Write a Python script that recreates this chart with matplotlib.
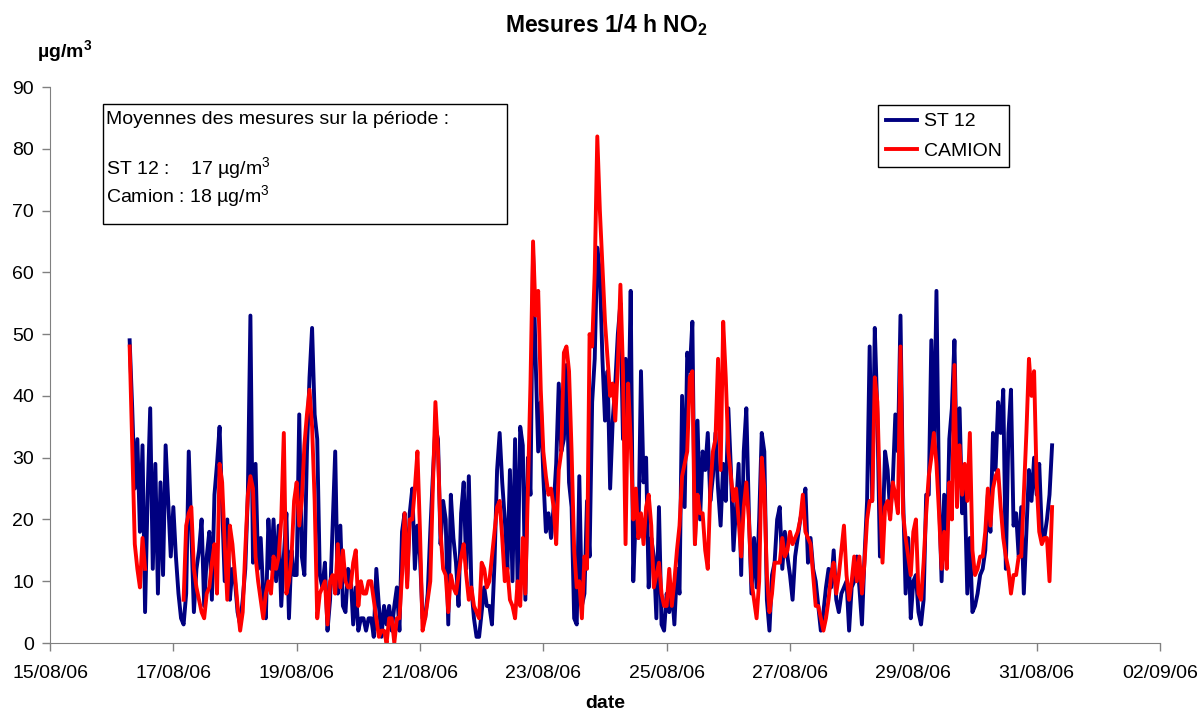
import numpy as np
import pandas as pd
import matplotlib
matplotlib.use("Agg")
import matplotlib.pyplot as plt
from matplotlib.patches import Rectangle

plt.rcParams['font.family'] = ['Liberation Sans', 'DejaVu Sans']
plt.rcParams['mathtext.fontset'] = 'custom'
plt.rcParams['mathtext.rm'] = 'Liberation Sans'
plt.rcParams['mathtext.bf'] = 'Liberation Sans:bold'

nan = np.nan

# hourly readings, 16/08/06 07:00 -> 31/08/06 06:00
start = "2006-08-16 07:00"

st12 = [
    # 16/08
    49, 38, 25, 33, 18, 32, 5, 24, 38, 12, 29, 8, 26, 11, 32, 23, 14,
    # 17/08
    22, 14, 8, 4, 3, 8, 31, 18, 5, 12, 15, 20, 6, 14, 18, 7, 24, 29, 35, 22, 10, 20, 7, 12,
    # 18/08
    10, 5, 3, 7, 12, 24, 53, 13, 29, 12, 17, 8, 4, 20, 12, 20, 10, 19, 6, 14, 21, 4, 15, 11,
    # 19/08
    11, 37, 14, 11, 31, 43, 51, 37, 33, 11, 9, 13, 2, 7, 19, 31, 8, 19, 6, 5, 12, 11, 3, 9,
    # 20/08
    2, 4, 4, 2, 4, 4, 1, 12, 6, 1, 6, 3, 6, 2, 6, 9, 2, 18, 21, 10, 21, 25, 12, 19,
    # 21/08
    14, 4, 4, 8, 18, 27, 35, 33, 16, 23, 20, 3, 24, 17, 13, 6, 21, 26, 12, 27, 9, 4, 1, 1,
    # 22/08
    5, 9, 6, 6, 3, 13, 28, 34, 26, 20, 12, 28, 10, 33, 9, 35, 32, 7, 30, 24, 63, 46, 31, 39,
    # 23/08
    27, 18, 21, 17, 22, 29, 42, 31, 33, 45, 26, 22, 4, 3, 27, 6, 8, 23, 14, 39, 46, 64, 60, 46,
    # 24/08
    36, 44, 25, 36, 42, 50, 55, 33, 46, 33, 57, 10, 21, 17, 44, 26, 30, 9, 17, 14, 4, 22, 3, 2,
    # 25/08
    8, 5, 9, 3, 12, 8, 40, 22, 47, 44, 52, 16, 36, 20, 31, 28, 34, 23, 27, 34, 25, 19, 29, 23,
    # 26/08
    38, 28, 15, 22, 29, 11, 31, 38, 21, 8, 17, 9, 20, 34, 31, 7, 2, 11, 13, 20, 22, 12, 18, 14,
    # 27/08
    11, 7, 14, 17, 20, 22, 25, 13, 17, 12, 10, 6, 2, 5, 9, 12, 9, 15, 7, 5, 8, 9, 10, 2,
    # 28/08
    9, 10, 14, 9, 3, 14, 23, 48, 23, 51, 37, 14, 17, 31, 28, 21, 26, 37, 31, 53, 24, 8, 17, 4,
    # 29/08
    10, 11, 5, 3, 7, 24, 24, 49, 31, 57, 24, 10, 24, 14, 33, 38, 49, 26, 38, 21, 25, 8, 17, 5,
    # 30/08
    6, 8, 11, 12, 15, 24, 18, 34, 28, 39, 34, 41, 12, 34, 41, 19, 21, 14, 22, 8, 18, 28, 23, 30,
    # 31/08
    24, 29, 18, 17, 20, 24, 32,
]

camion = [
    # 16/08
    48, 32, 16, 12, 9, 17, 12, nan, nan, nan, nan, nan, nan, nan, nan, nan, nan,
    # 17/08
    nan, nan, nan, nan, 7, 19, 21, 22, 12, 9, 7, 5, 4, 8, 9, 13, 16, 8, 29, 26, 16, 7, 19, 16,
    # 18/08
    11, 6, 2, 5, 15, 24, 27, 25, 14, 10, 7, 4, 8, 10, 8, 14, 12, 14, 20, 34, 8, 10, 14, 23,
    # 19/08
    26, 19, 23, 32, 37, 41, 35, 23, 4, 8, 9, 10, 3, 10, 11, 8, 16, 9, 15, 10, 9, 9, 13, 15,
    # 20/08
    6, 10, 8, 8, 10, 10, 7, 4, 1, 2, 2, 0, 4, 4, 0, 4, 4, 11, 21, 9, 20, 20, 25, 31,
    # 21/08
    18, 2, 4, 7, 10, 25, 39, 31, 18, 12, 11, 5, 11, 9, 8, 11, 14, 16, 11, 7, 9, 6, 5, 4,
    # 22/08
    13, 12, 9, 10, 14, 18, 22, 23, 17, 10, 12, 7, 6, 4, 10, 6, 17, 8, 25, 42, 65, 53, 57, 41,
    # 23/08
    31, 27, 24, 25, 22, 16, 28, 31, 47, 48, 44, 31, 15, 9, 10, 4, 14, 12, 50, 48, 60, 82, 70, 61,
    # 24/08
    52, 46, 40, 42, 36, 45, 58, 44, 16, 42, 33, 20, 25, 17, 21, 16, 22, 24, 19, 9, 11, 13, 8, 6,
    # 25/08
    6, 12, 6, 10, 15, 19, 27, 29, 31, 43, 44, 16, 24, 21, 21, 15, 12, 25, 31, 33, 46, 28, 52, 43,
    # 26/08
    31, 27, 23, 25, 20, 14, 22, 26, 20, 10, 7, 4, 10, 30, 25, 11, 5, 8, 13, 13, 13, 17, 14, 15,
    # 27/08
    18, 16, 17, 18, 20, 24, 18, 17, 16, 11, 6, 6, 4, 2, 4, 7, 11, 13, 8, 11, 15, 19, 11, 7,
    # 28/08
    10, 14, 10, 14, 8, 13, 20, 23, 23, 43, 39, 24, 13, 22, 23, 20, 26, 24, 21, 48, 21, 17, 14, 11,
    # 29/08
    18, 20, 8, 7, 13, 21, 27, 30, 34, 29, 21, 12, 18, 12, 26, 20, 45, 22, 32, 24, 29, 23, 34, 15,
    # 30/08
    11, 12, 14, 14, 18, 25, 19, 25, 27, 28, 22, 17, 14, 12, 8, 11, 11, 14, 14, 24, 34, 46, 40, 44,
    # 31/08
    26, 18, 16, 17, 17, 10, 22,
]

tick_dates = pd.date_range("2006-08-15", "2006-09-02", freq="2D")
tick_labels = [d.strftime("%d/%m/%y") for d in tick_dates]
y_ticks = list(range(0, 91, 10))

times = pd.date_range(start, periods=len(st12), freq="h").to_numpy()

W, H = 1204, 711
fig = plt.figure(figsize=(W / 100, H / 100), dpi=100)
ax = fig.add_axes([50 / W, (H - 643) / H, 1110 / W, 556 / H])

ax.plot(times, np.array(st12, dtype=float), color='#000080', lw=2.8, label='ST 12')
ax.plot(times, np.array(camion, dtype=float), color='#FF0000', lw=2.8, label='CAMION')

ax.set_xlim(tick_dates[0], tick_dates[-1])
ax.set_xticks(tick_dates)
ax.set_xticklabels(tick_labels)
ax.set_ylim(0, 90)
ax.set_yticks(y_ticks)

for side in ['top', 'right']:
    ax.spines[side].set_visible(False)
for side in ['left', 'bottom']:
    ax.spines[side].set_color('#808080')
ax.tick_params(axis='both', direction='out', length=6, width=1, color='#808080', labelsize=14)
ax.tick_params(axis='x', pad=10)
ax.tick_params(axis='y', pad=5.5)

# titles and axis labels
fig.text(606 / W, 1 - 25 / H, r"Mesures 1/4 h NO$_\mathbf{2}$", ha='center', va='center',
         fontsize=16.5, fontweight='bold')
fig.text(37 / W, 1 - 58 / H, r"µg/m$^\mathbf{3}$", ha='left', va='baseline',
         fontsize=14, fontweight='bold')
fig.text(605 / W, 1 - 703 / H, "date", ha='center', va='center', fontsize=14, fontweight='bold')

# box with the averages
fig.patches.append(Rectangle((103 / W, 1 - 224 / H), 404 / W, 120 / H, transform=fig.transFigure,
                             facecolor='white', edgecolor='black', lw=1, zorder=5))
box_lines = ["Moyennes des mesures sur la période :",
             r"ST 12 :    17 µg/m$^3$",
             r"Camion : 18 µg/m$^3$"]
box_y = [124, 175, 203]
for txt, yy in zip(box_lines, box_y):
    fig.text(106 / W, 1 - yy / H, txt, ha='left', va='baseline', fontsize=14, zorder=6)

leg = ax.legend(loc='upper left', bbox_to_anchor=(878 / W, 1 - 105 / H),
                bbox_transform=fig.transFigure, fontsize=14, frameon=True, fancybox=False,
                edgecolor='black', framealpha=1, borderaxespad=0, borderpad=0.4,
                handlelength=1.6, handletextpad=0.35, labelspacing=0.6)
leg.get_frame().set_linewidth(1)

fig.savefig("out.png", dpi=100)
